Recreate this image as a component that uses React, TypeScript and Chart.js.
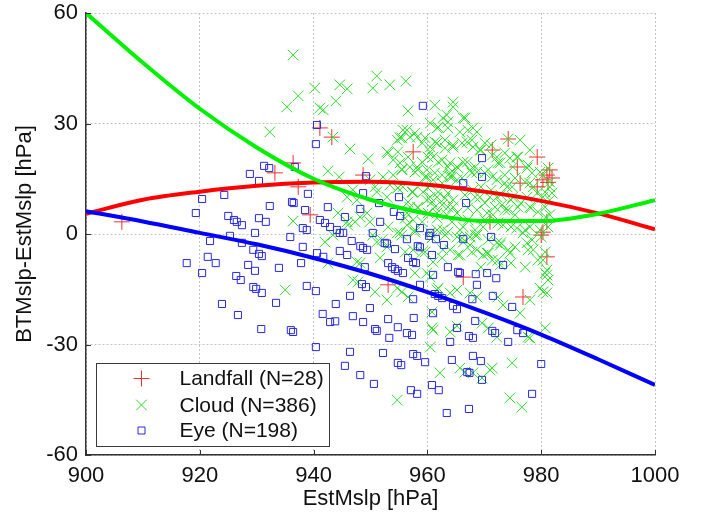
import React, { useEffect, useRef } from 'react';
import { Chart, registerables } from 'chart.js';

Chart.register(...registerables);

const FONT = "'Liberation Sans', Arial, Helvetica, sans-serif";

const xTicks = [900, 920, 940, 960, 980, 1000];
const yTicks = [-60, -30, 0, 30, 60];

const xTitle = 'EstMslp [hPa]';
const yTitle = 'BTMslp-EstMslp [hPa]';
const seriesLabels = ['Landfall (N=28)', 'Cloud (N=386)', 'Eye (N=198)'];

// fitted curves (read at 10 hPa steps)
const fitX = [900, 910, 920, 930, 940, 950, 960, 970, 980, 990, 1000];
const fitLandfall = [5.5, 9.3, 11.5, 13.1, 14.0, 14.2, 13.4, 11.5, 9.0, 5.6, 1.3];
const fitCloud = [60, 46.5, 34, 23.5, 15, 9.3, 5.5, 3.5, 3.5, 5.5, 9.2];
const fitEye = [6.2, 3.4, 0.3, -2.8, -6.5, -10.8, -15.8, -21.3, -27.3, -34, -41];

const landfallPts: [number, number][] = [
  [906.3, 3.3], [933.2, 16.6], [936.4, 19.3], [937.3, 12.8], [939.4, 5.2], [941.1, 28.8],
  [943.2, 26.3], [957.5, 22.3], [948.7, 16.0], [974.2, 25.8], [971.4, 22.8], [979.3, 20.9],
  [975.8, 18.2], [981.0, 16.0], [981.9, 15.2], [976.3, 13.8], [979.3, 12.8], [980.3, 14.7],
  [971.0, 3.3], [981.0, 3.3], [980.3, 0.5], [981.0, -6.2], [966.3, -11.7], [976.8, -17.1],
  [953.1, -13.8], [981.2, 14.0], [980.0, -0.3], [981.5, 17.4],
];

const cloudPts: [number, number][] = [
  [936.4, 48.6], [940.2, 39.6], [937.3, 37.5], [935.3, 34.5], [941.1, 34.2], [941.7, 33.7],
  [944.6, 40.5], [945.9, 39.4], [943.9, 36.1], [932.3, 27.7], [943.4, 26.3], [946.4, 23.1],
  [942.5, 17.1], [944.5, 15.5], [936.4, 3.5], [942.0, -2.2], [944.3, 5.7], [945.9, 3.3],
  [935.0, -15.2], [942.5, -7.9], [951.1, 42.9], [950.4, 39.6], [953.4, 40.5], [956.2, 41.5],
  [956.6, 33.4], [949.6, 20.4], [945.9, 10.0], [950.8, 12.8], [952.9, 10.0], [955.7, 12.8],
  [957.5, 11.4], [959.2, 11.4], [960.5, 10.0], [956.9, 7.3], [958.3, 7.1], [960.1, 5.7],
  [949.4, 5.7], [949.9, 3.3], [947.3, 3.3], [946.0, 2.4], [956.4, 2.4], [957.8, 1.1],
  [953.1, 1.9], [950.4, -0.3], [943.4, -0.3], [954.7, 25.5], [955.2, 26.1], [956.4, 28.2],
  [953.1, 22.0], [954.0, 20.1], [955.2, 19.3], [958.2, 26.3], [959.1, 24.7], [960.5, 23.6],
  [955.5, 17.6], [956.9, 18.2], [958.3, 17.4], [959.9, 15.5], [952.2, 15.5], [954.0, 16.0],
  [951.1, -2.2], [952.0, -1.6], [954.7, 0.3], [955.2, 0.3], [951.7, -6.5], [947.6, -7.6],
  [948.2, -7.9], [946.9, -12.5], [947.8, -13.0], [950.8, -15.7], [952.9, -17.9], [954.7, -14.7],
  [955.5, -15.7], [956.6, -17.1], [957.8, -10.6], [957.5, -4.3], [959.1, -4.9], [959.9, -10.6],
  [960.5, -11.7], [960.8, -25.5], [960.5, -30.7], [954.7, -45.1], [961.0, -7.6], [962.2, -37.7],
  [964.0, -26.6], [965.2, -25.0], [965.7, -36.4], [966.6, -37.5], [968.0, -37.7], [969.6, -39.1],
  [971.4, -36.4], [974.9, -35.0], [974.5, -44.5], [976.6, -47.0], [978.0, -28.2], [980.7, -25.5],
  [961.9, -14.7], [964.0, -16.0], [967.5, -16.0], [968.7, -17.1], [969.6, -24.2], [970.7, -25.5],
  [972.4, -17.1], [976.3, -21.5], [978.0, -17.9], [979.8, -14.7], [981.0, -16.0], [981.0, -11.1],
  [981.0, -9.8], [980.3, -7.1], [972.2, -2.4], [974.2, -4.3], [969.8, -5.7], [971.4, -7.1],
  [972.8, -8.4], [977.5, -2.4], [978.6, -4.3], [980.7, -10.6], [980.3, -15.7], [973.3, -19.3],
  [965.2, -15.2], [961.7, -15.2], [960.8, -21.2], [961.0, -26.1], [972.2, -28.0], [977.7, -28.0],
  [971.0, -36.9], [965.2, -0.8], [966.3, -2.2], [967.5, -3.0], [962.7, -4.3], [968.7, -0.3],
  [964.5, 35.8], [966.3, 31.5], [961.3, 35.0], [960.5, 30.1], [961.7, 28.8], [963.6, 28.8],
  [965.7, 27.7], [967.1, 28.2], [968.7, 27.7], [961.7, 24.7], [963.1, 25.5], [964.5, 23.6],
  [967.0, 25.0], [968.0, 23.6], [969.2, 22.8], [970.1, 24.7], [971.4, 21.4], [972.2, 20.9],
  [973.6, 22.0], [972.8, 19.3], [974.5, 20.6], [975.7, 20.9], [975.0, 18.2], [961.0, 20.9],
  [962.6, 20.1], [964.0, 19.3], [965.2, 18.2], [966.3, 19.5], [967.5, 17.4], [968.7, 16.8],
  [970.1, 16.6], [971.4, 15.5], [972.2, 14.7], [973.6, 13.8], [974.9, 12.8], [977.5, 17.9],
  [978.4, 16.6], [979.8, 16.8], [978.0, 13.8], [979.3, 11.1], [980.3, 10.0], [981.2, 17.9],
  [981.5, 12.8], [981.9, 11.1], [980.7, 7.3], [981.5, 5.2], [977.5, 10.0], [978.0, 7.3],
  [975.0, 10.0], [975.9, 7.3], [974.2, 6.5], [972.2, 10.0], [973.1, 7.9], [961.0, 14.7],
  [962.6, 13.8], [964.0, 15.5], [961.7, 10.0], [963.1, 9.8], [964.5, 9.2], [968.0, 11.9],
  [969.2, 10.0], [968.7, 6.5], [970.5, 5.7], [971.5, 5.2], [961.7, 5.7], [963.4, 5.2],
  [965.2, 5.7], [966.3, 1.9], [968.4, 1.1], [969.8, 1.9], [973.3, 2.4], [975.7, 1.6],
  [978.0, 1.9], [979.8, 1.1], [961.7, 1.1], [963.6, 0.5], [976.3, 25.5], [974.2, 25.8],
  [978.0, 22.8], [962.7, 31.5], [963.4, 32.3], [966.6, 31.5], [952.9, 22.3], [955.7, 28.2],
  [956.9, 26.3], [960.5, 22.3], [958.2, 18.2], [959.9, 17.4], [961.3, 16.6], [953.4, 13.3],
  [954.8, 12.5], [964.0, 16.6], [965.2, 14.7], [963.6, 7.3], [959.9, 9.2], [961.3, 7.3],
  [956.4, 5.7], [957.5, 3.8], [971.0, 10.0], [974.0, 12.8], [946.9, 12.0], [947.6, 9.2],
  [949.9, 14.7], [951.1, 11.4], [948.2, 4.6], [960.5, 0.3], [962.7, 1.1], [965.7, 1.1],
  [967.5, -0.8], [952.9, -3.5], [964.0, -4.3], [965.7, -5.7], [968.7, -4.3], [970.5, -5.2],
  [972.8, -3.0], [974.5, -5.2], [976.8, 0.3], [978.4, -1.6],
  [964.5, 34.5], [961.9, 29.0], [963.6, 30.4], [968.0, 28.8], [955.5, 26.1], [957.8, 27.4],
  [959.6, 26.1], [961.3, 25.0], [963.1, 23.3], [964.5, 24.2], [966.1, 24.7], [967.8, 25.5],
  [954.8, 22.3], [956.6, 20.9], [959.1, 19.5], [960.1, 20.9], [961.9, 19.5], [963.6, 18.2],
  [965.4, 17.9], [967.0, 19.5], [968.4, 18.2], [955.5, 17.4], [957.8, 16.8], [959.6, 15.5],
  [962.6, 16.0], [964.3, 15.5], [966.1, 15.2], [967.8, 16.6], [954.8, 12.5], [957.3, 11.4],
  [960.1, 12.5], [961.9, 11.4], [963.6, 11.1], [966.6, 10.6], [968.4, 10.0], [956.6, 8.7],
  [958.3, 7.3], [960.8, 8.7], [962.6, 7.9], [964.5, 7.3], [967.1, 7.1], [956.1, 4.3],
  [959.1, 3.3], [961.7, 4.3], [964.3, 3.3], [967.1, 3.8], [955.5, -0.3], [957.8, 0.5],
  [960.8, -1.1], [963.1, -0.3], [966.1, -1.1], [968.4, -0.3], [956.1, -4.9], [959.6, -4.9],
  [962.6, -6.5], [965.4, -5.7], [967.8, -4.9],
  [971.2, 24.2], [969.4, 22.8], [975.9, 20.9], [977.7, 18.7], [972.4, 19.3], [970.7, 17.4],
  [973.6, 16.0], [975.4, 15.2], [977.2, 14.1], [978.6, 12.8], [980.3, 16.0], [981.5, 14.1],
  [980.7, 11.4], [981.5, 9.2], [969.4, 12.8], [971.2, 11.9], [972.9, 10.6], [974.7, 9.2],
  [976.4, 8.4], [978.2, 7.1], [970.1, 8.4], [971.9, 7.3], [973.6, 6.5], [975.4, 5.2],
  [979.4, 6.0], [980.8, 4.6], [981.2, 1.9], [970.1, 3.8], [972.4, 3.0], [974.7, 1.9],
  [977.2, 1.1], [970.7, -1.6], [972.9, -2.4], [975.4, -3.5], [977.7, -4.3], [980.0, -0.8],
  [972.4, -7.1], [974.7, -7.9], [977.2, -9.0], [979.4, -7.1], [980.7, -4.9], [981.2, -12.5],
  [970.7, -5.2], [969.4, -9.0],
];

const eyePts: [number, number][] = [
  [940.6, 29.6], [940.4, 24.4], [931.3, 18.5], [932.2, 17.9], [928.8, 16.3], [930.4, 14.4],
  [936.7, 18.2], [920.4, 9.5], [924.3, 10.6], [919.3, 5.7], [932.3, 7.6], [936.2, 8.7],
  [936.5, 8.4], [939.0, 10.9], [938.5, 6.5], [942.5, 7.3], [925.0, 4.9], [926.0, 3.8],
  [926.5, 3.3], [927.4, 2.4], [930.4, 4.3], [931.6, 3.3], [929.7, 0.3], [925.3, -0.5],
  [921.8, -1.9], [927.4, -2.4], [935.9, -0.8], [938.1, 1.6], [938.8, 1.1], [941.1, 3.8],
  [942.0, 3.0], [942.9, 1.9], [944.1, 1.1], [944.6, 0.3], [945.2, 0.3], [945.5, 4.6],
  [938.1, -3.5], [929.4, -4.3], [930.4, -5.4], [930.9, -6.0], [921.4, -6.2], [940.6, -5.2],
  [944.6, -4.6], [917.7, -7.9], [922.8, -7.9], [920.4, -10.6], [928.5, -8.4], [929.7, -10.0],
  [933.9, -9.2], [937.8, -7.9], [926.4, -11.4], [927.2, -12.5], [929.4, -14.4], [929.9, -14.9],
  [930.9, -16.0], [933.4, -18.7], [923.9, -19.0], [926.7, -22.0], [930.8, -25.8], [936.0, -26.1],
  [936.4, -26.6], [938.8, -14.1], [940.4, -15.5], [941.6, -21.7], [942.9, -23.9], [943.8, -23.7],
  [943.9, -19.0], [940.4, -30.7], [945.5, -35.8], [946.4, -32.0], [946.4, -16.8], [941.7, -6.2],
  [946.7, -1.9], [948.2, -3.3], [948.7, -3.8], [949.4, -4.3], [945.9, -5.7], [952.5, -2.4],
  [952.9, -2.6], [954.3, -4.1], [956.4, -1.4], [958.3, -3.3], [958.7, -3.6], [960.3, -0.5],
  [956.6, -6.5], [957.5, -7.6], [958.0, -7.9], [949.0, -9.0], [953.1, -7.9], [953.8, -9.0],
  [954.3, -9.5], [954.8, -10.0], [955.7, -10.6], [948.5, -13.6], [949.2, -14.4], [949.9, -20.1],
  [946.9, -22.3], [948.7, -23.9], [950.8, -25.8], [951.1, -26.3], [953.1, -23.1], [953.3, -28.2],
  [954.8, -25.3], [956.4, -26.9], [957.3, -27.4], [957.6, -22.8], [957.5, -32.6], [958.2, -33.1],
  [959.6, -34.8], [952.2, -32.3], [954.8, -35.0], [955.4, -35.6], [948.2, -38.3], [950.6, -40.7],
  [957.1, -42.4], [958.2, -43.4], [960.8, -41.0], [961.0, -21.5], [963.4, -48.6], [967.3, -47.5],
  [978.4, -43.4], [980.0, -35.3], [962.0, -42.4], [964.3, -34.2], [967.0, -37.5], [967.4, -37.7],
  [969.6, -39.6], [968.0, -33.1], [969.4, -34.5], [964.0, -29.3], [965.2, -25.5], [967.3, -27.7],
  [968.0, -28.2], [968.4, -23.6], [971.4, -26.3], [971.9, -26.9], [974.2, -29.3], [975.8, -26.1],
  [976.8, -26.9], [974.9, -19.8], [970.5, -10.6], [972.1, -12.0], [971.5, -16.8], [968.7, -13.8],
  [967.9, -17.7], [973.3, -8.4], [964.5, -19.5], [965.2, -20.4], [961.0, -11.1], [958.7, -13.8],
  [957.5, -17.7], [961.3, -16.3], [961.9, -16.8], [962.6, -17.4], [963.6, -9.0], [965.4, -10.3],
  [965.7, -10.6], [968.5, -10.9], [961.5, -1.4], [962.9, -3.0], [966.3, -1.4], [971.2, -0.8],
  [960.8, -5.7], [959.2, 34.8], [949.2, 15.7], [948.7, 11.1], [955.0, 10.0], [951.5, 8.4],
  [948.2, 6.8], [954.1, 6.0], [955.2, 4.9], [951.7, 3.3], [950.4, 0.3], [958.7, 1.6],
  [960.5, 0.3], [969.6, 20.6], [969.6, 15.5], [966.3, 13.8], [966.8, 8.4],
];

const COLORS = {
  landfall: '#ee3030',
  cloud: '#2fdc2f',
  eye: '#2a2ae0',
  fitLandfall: '#ff0000',
  fitCloud: '#00f000',
  fitEye: '#0000ff',
  axis: '#333333',
  grid: '#c4c4c4',
  text: '#111111',
};

function drawMarker(ctx: CanvasRenderingContext2D, kind: string, x: number, y: number, color: string) {
  ctx.save();
  ctx.strokeStyle = color;
  ctx.lineWidth = 1;
  ctx.beginPath();
  if (kind === 'plus') {
    ctx.moveTo(x - 8, y); ctx.lineTo(x + 8, y);
    ctx.moveTo(x, y - 8); ctx.lineTo(x, y + 8);
  } else if (kind === 'x') {
    ctx.moveTo(x - 5.3, y - 5.3); ctx.lineTo(x + 5.3, y + 5.3);
    ctx.moveTo(x - 5.3, y + 5.3); ctx.lineTo(x + 5.3, y - 5.3);
  } else {
    ctx.rect(x - 3.5, y - 3.5, 7, 7);
  }
  ctx.stroke();
  ctx.restore();
}

const overlayPlugin = {
  id: 'overlay',
  afterDraw(chart: any) {
    const ctx: CanvasRenderingContext2D = chart.ctx;
    const { left, bottom } = chart.chartArea;
    const xs = chart.scales.x;
    const ys = chart.scales.y;
    // inward tick marks
    ctx.save();
    ctx.strokeStyle = COLORS.axis;
    ctx.lineWidth = 1;
    ctx.beginPath();
    xTicks.forEach((v) => {
      const px = Math.round(xs.getPixelForValue(v)) + 0.5;
      ctx.moveTo(px, bottom);
      ctx.lineTo(px, bottom - 5);
    });
    yTicks.forEach((v) => {
      const py = Math.round(ys.getPixelForValue(v)) + 0.5;
      ctx.moveTo(left, py);
      ctx.lineTo(left + 5, py);
    });
    ctx.stroke();
    ctx.restore();

    // legend box
    const bx = left + 10.5;
    const by = bottom - 91.5;
    const bw = 233;
    const bh = 83;
    ctx.save();
    ctx.fillStyle = '#ffffff';
    ctx.fillRect(bx, by, bw, bh);
    ctx.strokeStyle = '#3a3a3a';
    ctx.lineWidth = 1;
    ctx.strokeRect(bx, by, bw, bh);
    const kinds = ['plus', 'x', 'square'];
    const cols = [COLORS.landfall, COLORS.cloud, COLORS.eye];
    const rowsY = [by + 15, by + 41.5, by + 67];
    ctx.font = `21px ${FONT}`;
    ctx.fillStyle = COLORS.text;
    ctx.textBaseline = 'middle';
    ctx.textAlign = 'left';
    seriesLabels.forEach((label, i) => {
      drawMarker(ctx, kinds[i], bx + 45, rowsY[i], cols[i]);
      ctx.fillText(label, bx + 83, rowsY[i] + 1);
    });
    ctx.restore();
  },
};

export default function App() {
  const ref = useRef<HTMLCanvasElement>(null);
  useEffect(() => {
    if (!ref.current) return;
    const toXY = (pts: [number, number][]) => pts.map(([x, y]) => ({ x, y }));
    const fit = (ys: number[]) => fitX.map((x, i) => ({ x, y: ys[i] }));
    const tickFont = { size: 22, family: FONT };
    const chart = new Chart(ref.current, {
      type: 'scatter',
      data: {
        datasets: [
          {
            label: 'Eye fit', data: fit(fitEye), showLine: true, borderColor: COLORS.fitEye,
            borderWidth: 4, pointRadius: 0, cubicInterpolationMode: 'monotone', order: 0,
          } as any,
          {
            label: 'Cloud fit', data: fit(fitCloud), showLine: true, borderColor: COLORS.fitCloud,
            borderWidth: 4, pointRadius: 0, cubicInterpolationMode: 'monotone', order: 1,
          } as any,
          {
            label: 'Landfall fit', data: fit(fitLandfall), showLine: true, borderColor: COLORS.fitLandfall,
            borderWidth: 4, pointRadius: 0, cubicInterpolationMode: 'monotone', order: 2,
          } as any,
          {
            label: seriesLabels[2], data: toXY(eyePts), pointStyle: 'rect', pointRadius: 5,
            borderColor: COLORS.eye, backgroundColor: 'rgba(0,0,0,0)', borderWidth: 1, order: 3,
          },
          {
            label: seriesLabels[1], data: toXY(cloudPts), pointStyle: 'crossRot', pointRadius: 7.5,
            borderColor: COLORS.cloud, backgroundColor: COLORS.cloud, borderWidth: 1, order: 4,
          },
          {
            label: seriesLabels[0], data: toXY(landfallPts), pointStyle: 'cross', pointRadius: 8,
            borderColor: COLORS.landfall, backgroundColor: COLORS.landfall, borderWidth: 1, order: 5,
          },
        ],
      },
      options: {
        responsive: false,
        animation: false,
        devicePixelRatio: 1,
        events: [],
        layout: { padding: { left: 0, top: 13, right: 48, bottom: 0 } },
        plugins: {
          legend: { display: false },
          tooltip: { enabled: false },
        },
        scales: {
          x: {
            type: 'linear',
            min: 900,
            max: 1000,
            afterBuildTicks: (s: any) => { s.ticks = xTicks.map((value) => ({ value })); },
            afterFit: (s: any) => {
              s.height = 63;
              s.paddingLeft = 0; s.paddingRight = 0; s.paddingTop = 0; s.paddingBottom = 0;
            },
            ticks: {
              font: tickFont, color: COLORS.text, padding: 8, maxRotation: 0,
              callback: (v: any) => String(v),
            },
            grid: { color: COLORS.grid, lineWidth: 1, drawTicks: false },
            border: { display: true, color: COLORS.axis, width: 1.5, dash: [2, 2] },
            title: {
              display: true, text: xTitle, font: tickFont, color: COLORS.text,
              padding: { top: 0, bottom: 6 },
            },
          },
          y: {
            type: 'linear',
            min: -60,
            max: 60,
            afterBuildTicks: (s: any) => { s.ticks = yTicks.map((value) => ({ value })); },
            afterFit: (s: any) => {
              s.width = 86;
              s.paddingLeft = 0; s.paddingRight = 0; s.paddingTop = 0; s.paddingBottom = 0;
            },
            ticks: {
              font: tickFont, color: COLORS.text, padding: 8,
              callback: (v: any) => String(v),
            },
            grid: { color: COLORS.grid, lineWidth: 1, drawTicks: false },
            border: { display: true, color: COLORS.axis, width: 1.5, dash: [2, 2] },
            title: {
              display: true, text: yTitle, font: tickFont, color: COLORS.text,
              padding: { top: 12, bottom: 0 },
            },
          },
        },
      } as any,
      plugins: [overlayPlugin],
    });
    return () => chart.destroy();
  }, []);
  return (
    <div style={{ position: 'absolute', left: 0, top: 0, width: 703, height: 518, background: '#ffffff' }}>
      <canvas ref={ref} width={703} height={518} style={{ display: 'block' }} />
    </div>
  );
}
